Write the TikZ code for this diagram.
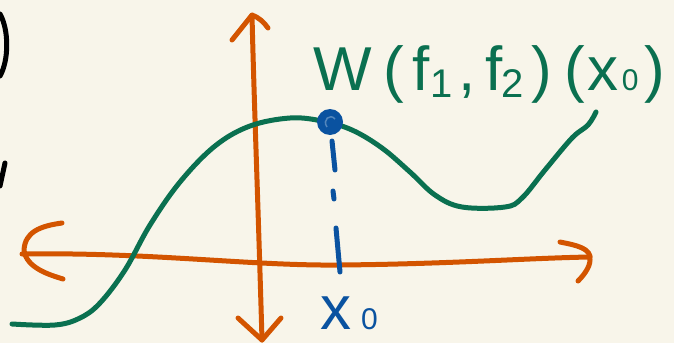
\documentclass[tikz,border=0pt]{standalone}
\usepackage{fontspec}
\setmainfont{Liberation Sans}
\definecolor{bgc}{HTML}{F8F5EA}
\definecolor{axc}{HTML}{D35400}
\definecolor{crv}{HTML}{0A7050}
\definecolor{dotc}{HTML}{0A52A0}
\newcommand\smallsub[1]{\raisebox{-7pt}{\fontsize{40}{40}\selectfont #1}}
\newcommand\naught{\raisebox{0pt}{\fontsize{30}{30}\selectfont 0}}
\tikzset{
  pen/.style={line width=5pt, line cap=round, line join=round},
  axisline/.style={pen, draw=axc},
  curveline/.style={pen, draw=crv},
  markline/.style={pen, draw=dotc},
  hand/.style={inner sep=0pt, font=\fontsize{62}{70}\selectfont},
}
\begin{document}
\begin{tikzpicture}[x=1pt, y=-1pt]
\fill[bgc] (0,0) rectangle (674,343);
\useasboundingbox (0,0) rectangle (674,343);
% named points
\coordinate (vbot) at (262,340);
\coordinate (vtop) at (252,15);
\coordinate (hleft) at (22,254);
\coordinate (hright) at (590,257);
\coordinate (x0pt) at (330,122);
\coordinate (x0foot) at (340,272);
% cut-off marks at left edge
\draw[pen, black] (0,14) .. controls (9,30) and (9,60) .. (0,76);
\draw[pen, black] (5,163) -- (0,186);
% vertical axis
\draw[axisline] (vbot) .. controls (258,200) and (254,100) .. (vtop);
\draw[axisline] (232,40) -- (vtop) .. controls (258,17) and (264,22) .. (268,28);
\draw[axisline] (238,318) -- (vbot) -- (281,318);
% horizontal axis
\draw[axisline] (hleft) .. controls (150,252) and (250,266) .. (340,265)
  .. controls (450,264) and (530,258) .. (hright);
\draw[axisline] (62,223) .. controls (40,226) and (25,232) .. (24,250)
  .. controls (26,268) and (50,275) .. (63,279);
\draw[axisline] (560,242) .. controls (575,245) and (592,248) .. (590,260)
  .. controls (590,268) and (582,277) .. (578,281);
% green curve
\draw[curveline] plot[smooth, tension=0.6] coordinates {
  (12,324) (55,325) (80,318) (100,303) (125,270) (150,225) (180,182)
  (215,146) (250,126) (290,118) (322,121) (352,130) (382,148) (410,172)
  (435,195) (462,207) (505,207) (522,198) (545,170) (572,138) (588,125) (596,112)};
% dashed blue marker
\draw[markline] (332,141) -- (335,170);
\draw[markline] (333,191) -- (334,199);
\draw[markline] (336,228) -- (x0foot);
\fill[dotc] (x0pt) circle (13);
\draw[line width=1.5pt, dotc!70!white] (327,127) .. controls (322,120) and (330,113) .. (335,119);
% labels
\node[hand, text=crv, anchor=base west] (wlab) at (313,90)
  {W\kern12pt(\kern8pt f\kern1pt\smallsub{1}\kern6pt,\kern9pt f\kern-1pt\smallsub{2}\kern8pt)\kern12pt(\kern3pt x\kern3pt\naught\kern6pt)};
\node[hand, text=dotc, anchor=base west] (xlab) at (320,329) {x\kern10pt\naught};
\end{tikzpicture}
\end{document}
